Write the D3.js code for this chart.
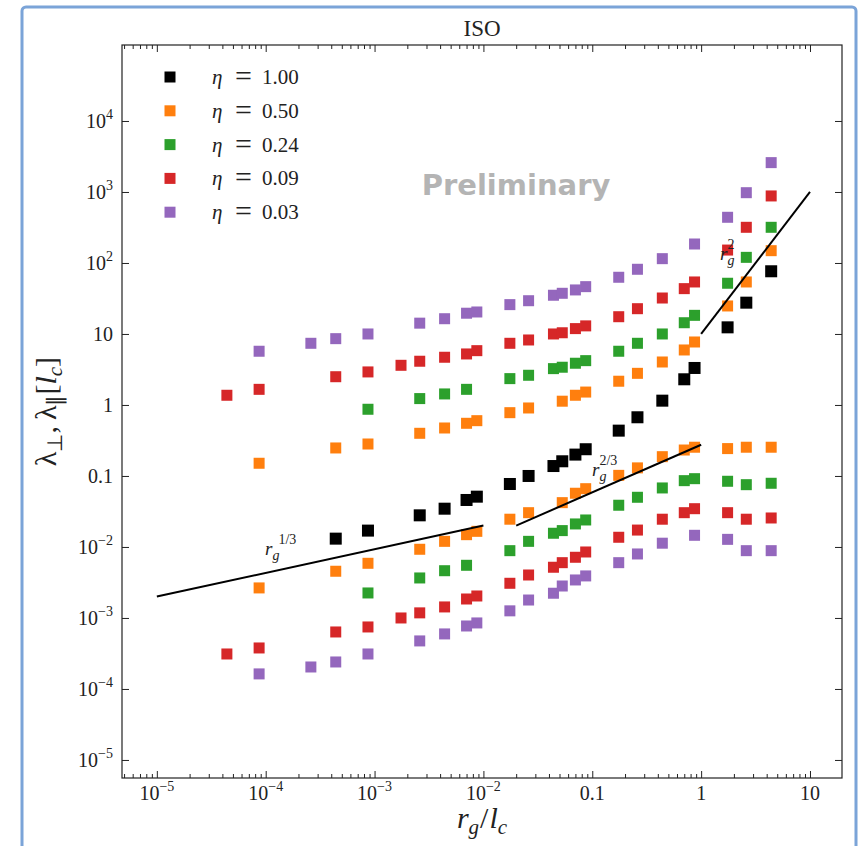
<!DOCTYPE html>
<html>
<head>
<meta charset="utf-8">
<script src="https://cdn.jsdelivr.net/npm/d3@7"></script>
<style>
body { margin: 0; background: #fff; }
svg { display: block; }
text { font-family: "Liberation Serif", "Times New Roman", serif; fill: #222; }
</style>
</head>
<body>
<svg id="chart"></svg>
<script>
// r_g / l_c of every column of points
const rgValues = [4.4e-5, 8.7e-5, 2.6e-4, 4.4e-4, 8.7e-4, 1.75e-3, 2.6e-3, 4.4e-3, 7.0e-3, 8.7e-3,
    0.0175, 0.026, 0.044, 0.053, 0.07, 0.087, 0.175, 0.26, 0.44, 0.70, 0.87, 1.75, 2.6, 4.4];

// eta = 1.00 (one set of points)
const lam_eta100 = [null, null, null, 0.0131, 0.0170, null, 0.0279, 0.0346, 0.0459, 0.0511,
    0.0771, 0.100, 0.138, 0.161, 0.200, 0.238, 0.435, 0.671, 1.15, 2.30, 3.32, 12.4, 27.6, 76.4];

// eta = 0.50
const lamPar_eta050 = [null, 0.151, null, 0.248, 0.282, null, 0.399, 0.474, 0.552, 0.601,
    0.779, 0.907, null, 1.13, 1.37, 1.52, 2.16, 2.79, 4.03, 5.95, 7.71, 24.8, 54.0, 149];
const lamPerp_eta050 = [null, 2.65e-3, null, 4.55e-3, 5.89e-3, null, 9.28e-3, 0.0120, 0.0149, 0.0166,
    0.0246, 0.0304, null, 0.0421, 0.0571, 0.0662, 0.102, 0.130, 0.187, 0.232, 0.254, 0.243, 0.254, 0.254];

// eta = 0.24
const lamPar_eta024 = [null, null, null, null, 0.870, null, 1.23, 1.43, 1.66, null,
    2.35, 2.62, 3.25, 3.40, 3.87, 4.21, 5.71, 7.39, 10.0, 14.4, 18.3, 51.8, 120, 318];
const lamPerp_eta024 = [null, null, null, null, 2.25e-3, null, 3.66e-3, 4.63e-3, 5.52e-3, null,
    8.87e-3, 0.0120, 0.0156, 0.0170, 0.0211, 0.0240, 0.0387, 0.0501, 0.0678, 0.0859, 0.0916, 0.0842, 0.0754, 0.0789];

// eta = 0.09
const lamPar_eta009 = [1.37, 1.66, null, 2.50, 2.92, 3.62, 4.13, 4.70, 5.23, 5.82,
    7.39, 8.23, 10.0, 10.4, 11.9, 13.0, 17.5, 22.7, 32.1, 43.5, 54.0, 152, 318, 879];
const lamPerp_eta009 = [3.11e-4, 3.78e-4, null, 6.35e-4, 7.47e-4, 1.0e-3, 1.18e-3, 1.43e-3, 1.85e-3, 2.04e-3,
    3.08e-3, 4.03e-3, 5.18e-3, 6.01e-3, 7.16e-3, 8.50e-3, 0.0137, 0.0173, 0.0246, 0.0304, 0.0346, 0.0304, 0.0246, 0.0256];

// eta = 0.03
const lamPar_eta003 = [null, 5.71, 7.39, 8.59, 10.0, null, 14.2, 16.4, 19.6, 20.4,
    25.9, 29.4, 35.1, 37.4, 41.7, 46.4, 62.9, 81.5, 115, null, 185, 440, 977, 2590];
const lamPerp_eta003 = [null, 1.63e-4, 2.04e-4, 2.40e-4, 3.11e-4, null, 4.75e-4, 5.96e-4, 7.71e-4, 8.51e-4,
    1.26e-3, 1.79e-3, 2.23e-3, 2.82e-3, 3.43e-3, 3.91e-3, 6.01e-3, 7.97e-3, 0.0113, null, 0.0146, 0.0128, 8.87e-3, 8.87e-3];

const etaLabels = ["1.00", "0.50", "0.24", "0.09", "0.03"];

// power-law guides: end points in data units
const fit13_x = [1e-5, 1e-2], fit13_y = [2e-3, 2e-2];
const fit23_x = [0.02, 1], fit23_y = [0.02, 0.275];
const fit2_x = [1, 10], fit2_y = [10, 1000];

const xMajor = [1e-5, 1e-4, 1e-3, 1e-2, 0.1, 1, 10];
const yMajor = [1e-5, 1e-4, 1e-3, 1e-2, 0.1, 1, 10, 1e2, 1e3, 1e4];

const W = 861, H = 846;
const plot = { left: 122, right: 842, top: 45, bottom: 778 };

const svg = d3.select("#chart").attr("width", W).attr("height", H);

// slide frame
svg.append("rect")
    .attr("x", 22).attr("y", 7)
    .attr("width", 834).attr("height", 880)
    .attr("rx", 4)
    .attr("fill", "none")
    .attr("stroke", "#7ba4d8")
    .attr("stroke-width", 3);

const x = d3.scaleLog().domain([10 ** -5.32, 10 ** 1.294]).range([plot.left, plot.right]);
const y = d3.scaleLog().domain([10 ** -5.254, 10 ** 5.07]).range([plot.bottom, plot.top]);

// minor ticks on x only
const xMinor = [];
for (let e = -6; e <= 1; e++) {
    for (let m = 2; m <= 9; m++) {
        const v = m * 10 ** e;
        if (v > x.domain()[0] && v < x.domain()[1]) xMinor.push(v);
    }
}

function addAxis(axis, tx, ty) {
    const g = svg.append("g").attr("transform", `translate(${tx},${ty})`).call(axis);
    g.select(".domain").remove();
    g.selectAll("line").attr("stroke", "#222").attr("stroke-width", 1);
    return g;
}

addAxis(d3.axisBottom(x).tickValues(xMajor).tickSize(-7).tickFormat(""), 0, plot.bottom);
addAxis(d3.axisBottom(x).tickValues(xMinor).tickSize(-4).tickFormat(""), 0, plot.bottom);
addAxis(d3.axisTop(x).tickValues(xMajor).tickSize(-7).tickFormat(""), 0, plot.top);
addAxis(d3.axisTop(x).tickValues(xMinor).tickSize(-4).tickFormat(""), 0, plot.top);
addAxis(d3.axisLeft(y).tickValues(yMajor).tickSize(-7).tickFormat(""), plot.left, 0);
addAxis(d3.axisRight(y).tickValues(yMajor).tickSize(-7).tickFormat(""), plot.right, 0);

svg.append("rect")
    .attr("x", plot.left).attr("y", plot.top)
    .attr("width", plot.right - plot.left).attr("height", plot.bottom - plot.top)
    .attr("fill", "none").attr("stroke", "#222").attr("stroke-width", 1.2);

// tick labels like matplotlib's log formatter
function powLabel(t, v) {
    const e = Math.round(Math.log10(v));
    if (e === 0) t.text("1");
    else if (e === 1) t.text("10");
    else if (e === -1) t.text("0.1");
    else {
        t.append("tspan").text("10");
        t.append("tspan").attr("font-size", 14).attr("dy", -9).text((e < 0 ? "\u2212" : "") + Math.abs(e));
    }
}

xMajor.forEach(v => {
    const t = svg.append("text")
        .attr("x", x(v)).attr("y", 800)
        .attr("text-anchor", "middle")
        .attr("font-size", 20);
    powLabel(t, v);
});
yMajor.forEach(v => {
    const t = svg.append("text")
        .attr("x", 113).attr("y", y(v) + 7)
        .attr("text-anchor", "end")
        .attr("font-size", 20);
    powLabel(t, v);
});

// title
svg.append("text")
    .attr("x", (plot.left + plot.right) / 2).attr("y", 36)
    .attr("text-anchor", "middle")
    .attr("font-size", 23)
    .text("ISO");

// x label r_g / l_c
const xl = svg.append("text")
    .attr("x", (plot.left + plot.right) / 2).attr("y", 828)
    .attr("text-anchor", "middle")
    .attr("font-size", 30);
xl.append("tspan").attr("font-style", "italic").text("r");
xl.append("tspan").attr("font-style", "italic").attr("font-size", 21).attr("dy", 6).text("g");
xl.append("tspan").attr("dy", -6).attr("dx", 1).text("/");
xl.append("tspan").attr("font-style", "italic").attr("dx", 1).text("l");
xl.append("tspan").attr("font-style", "italic").attr("font-size", 21).attr("dy", 6).text("c");

// y label
const yl = svg.append("text")
    .attr("transform", `translate(56,${(plot.top + plot.bottom) / 2}) rotate(-90)`)
    .attr("text-anchor", "middle")
    .attr("font-size", 30);
yl.append("tspan").text("λ");
yl.append("tspan").attr("font-size", 21).attr("dy", 6).text("⊥");
yl.append("tspan").attr("dy", -6).text(",");
yl.append("tspan").attr("dx", 6).text("λ");
yl.append("tspan").attr("font-size", 21).attr("dy", 6).text("∥");
yl.append("tspan").attr("dy", -6).text("[");
yl.append("tspan").attr("font-style", "italic").text("l");
yl.append("tspan").attr("font-style", "italic").attr("font-size", 21).attr("dy", 6).text("c");
yl.append("tspan").attr("dy", -6).text("]");

// watermark
svg.append("text")
    .attr("x", 516).attr("y", 195)
    .attr("text-anchor", "middle")
    .style("font-family", "'DejaVu Sans', sans-serif")
    .style("font-weight", "bold")
    .style("font-size", "29px")
    .style("fill", "#b4b4b4")
    .text("Preliminary");

// series
const series = [
    { label: etaLabels[0], color: "#000000", size: 12, sets: [lam_eta100] },
    { label: etaLabels[1], color: "#ff7f0e", size: 11, sets: [lamPar_eta050, lamPerp_eta050] },
    { label: etaLabels[2], color: "#2ca02c", size: 11, sets: [lamPar_eta024, lamPerp_eta024] },
    { label: etaLabels[3], color: "#d62728", size: 11, sets: [lamPar_eta009, lamPerp_eta009] },
    { label: etaLabels[4], color: "#9467bd", size: 11, sets: [lamPar_eta003, lamPerp_eta003] }
];

const marks = svg.append("g");
series.forEach(s => {
    s.sets.forEach(vals => {
        const pts = vals.map((v, i) => ({ rg: rgValues[i], v: v })).filter(d => d.v !== null);
        marks.selectAll(null)
            .data(pts)
            .enter()
            .append("rect")
            .attr("x", d => x(d.rg) - s.size / 2)
            .attr("y", d => y(d.v) - s.size / 2)
            .attr("width", s.size)
            .attr("height", s.size)
            .attr("fill", s.color);
    });
});

// power-law guide lines
const line = d3.line().x(d => x(d[0])).y(d => y(d[1]));
[[fit13_x, fit13_y], [fit23_x, fit23_y], [fit2_x, fit2_y]].forEach(([fx, fy]) => {
    svg.append("path")
        .attr("d", line(d3.zip(fx, fy)))
        .attr("fill", "none")
        .attr("stroke", "#000")
        .attr("stroke-width", 2);
});

// r_g^p labels
function rgLabel(px, py, power, stacked) {
    const t = svg.append("text").attr("x", px).attr("y", py).attr("font-size", 19);
    t.append("tspan").attr("font-style", "italic").text("r");
    t.append("tspan").attr("font-style", "italic").attr("font-size", 14).attr("dy", 5).text("g");
    t.append("tspan").attr("font-size", 14).attr("dx", stacked ? -7 : -1).attr("dy", -16).text(power);
}
rgLabel(265, 555, "1/3", false);
rgLabel(592, 476, "2/3", true);
rgLabel(720, 260, "2", true);

// legend
const legend = svg.append("g");
series.forEach((s, i) => {
    const ly = 77 + i * 33.8;
    legend.append("rect")
        .attr("x", 170 - 5.5).attr("y", ly - 5.5)
        .attr("width", 11).attr("height", 11)
        .attr("fill", s.color);
    const t = legend.append("text")
        .attr("y", ly + 7)
        .attr("font-size", 21);
    t.append("tspan").attr("x", 212).attr("font-style", "italic").text("η");
    t.append("tspan").attr("x", 235).attr("font-size", 30).attr("dy", 2).text("=");
    t.append("tspan").attr("x", 262).attr("dy", -2).text(s.label);
});
</script>
</body>
</html>
